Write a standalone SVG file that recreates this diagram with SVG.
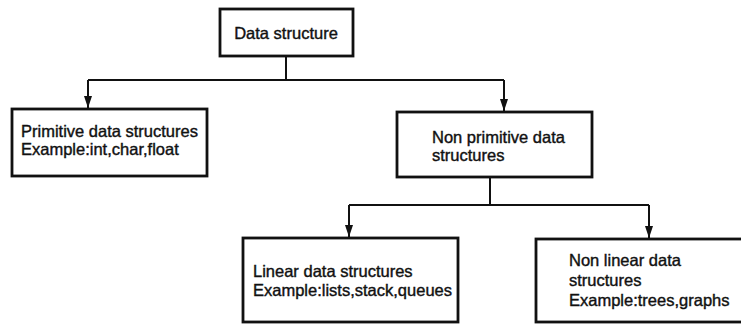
<svg xmlns="http://www.w3.org/2000/svg" width="741" height="327" viewBox="0 0 741 327">
<defs>
<marker id="ah" markerWidth="12" markerHeight="8" refX="12" refY="4" orient="auto" markerUnits="userSpaceOnUse" viewBox="0 0 12 8">
<path d="M0,0 L12,4 L0,8 Z" fill="#111"/>
</marker>
<style>
.box{fill:#fff;stroke:#111;stroke-width:2.8}
.ln{fill:none;stroke:#111;stroke-width:2}
text{font-family:"Liberation Sans",Arial,sans-serif;font-size:16.5px;fill:#111;stroke:#111;stroke-width:0.4}
</style>
</defs>
<rect width="741" height="327" fill="#fff"/>
<g id="connectors">
<path class="ln" d="M286,56 V80"/>
<path class="ln" d="M88,80 H504"/>
<path class="ln" d="M88,80 V108" marker-end="url(#ah)"/>
<path class="ln" d="M504,80 V111" marker-end="url(#ah)"/>
<path class="ln" d="M490,177 V205"/>
<path class="ln" d="M349,205 H649"/>
<path class="ln" d="M349,205 V237" marker-end="url(#ah)"/>
<path class="ln" d="M649,205 V238" marker-end="url(#ah)"/>
</g>
<g id="data-structure">
<rect class="box" x="220" y="9" width="133" height="47"/>
<text x="286" y="39" text-anchor="middle">Data structure</text>
</g>
<g id="primitive">
<rect class="box" x="12" y="109" width="195" height="67"/>
<text x="21" y="137">Primitive data structures</text>
<text x="21" y="155">Example:int,char,float</text>
</g>
<g id="non-primitive">
<rect class="box" x="397" y="112" width="195" height="65"/>
<text x="432" y="143">Non primitive data</text>
<text x="432" y="161">structures</text>
</g>
<g id="linear">
<rect class="box" x="243" y="238" width="215" height="84"/>
<text x="253" y="277">Linear data structures</text>
<text x="253" y="296">Example:lists,stack,queues</text>
</g>
<g id="non-linear">
<rect class="box" x="536" y="239" width="215" height="83"/>
<text x="569" y="266">Non linear data</text>
<text x="569" y="286">structures</text>
<text x="569" y="306">Example:trees,graphs</text>
</g>
</svg>
